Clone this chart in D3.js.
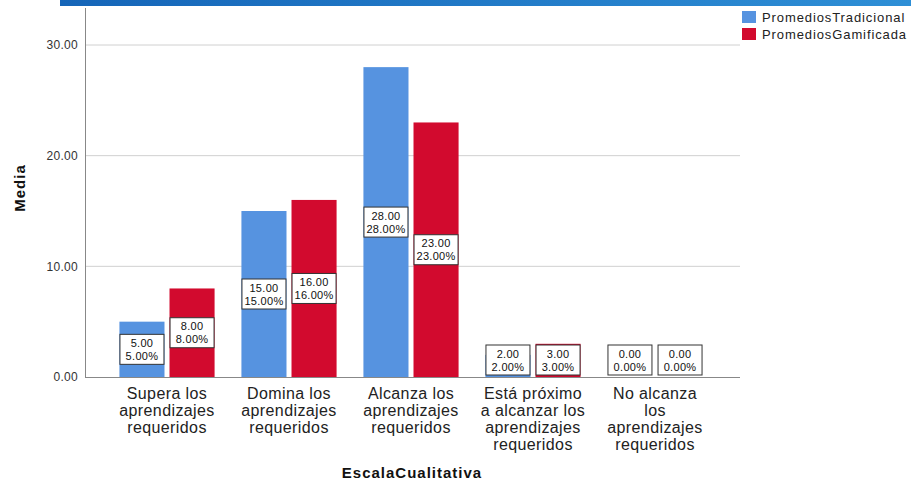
<!DOCTYPE html>
<html><head><meta charset="utf-8">
<script src="https://cdn.jsdelivr.net/npm/d3@7"></script>
<style>body{margin:0;background:#fff;} svg{display:block;font-family:"Liberation Sans",Arial,sans-serif;}</style>
</head><body>
<svg id="c" width="911" height="486"></svg>
<script>
const categories = [
  ["Supera los","aprendizajes","requeridos"],
  ["Domina los","aprendizajes","requeridos"],
  ["Alcanza los","aprendizajes","requeridos"],
  ["Está próximo","a alcanzar los","aprendizajes","requeridos"],
  ["No alcanza","los","aprendizajes","requeridos"]
];
const seriesNames = ["PromediosTradicional","PromediosGamificada"];
const tradicional = [5, 15, 28, 2, 0];
const gamificada = [8, 16, 23, 3, 0];
const yTicks = [0, 10, 20, 30];
const colors = ["#5693e0", "#d20a2e"];

const svg = d3.select("#c");
const baseY = 377, topY = 8, axisX = 85, gridEnd = 740;

// top strip
const grad = svg.append("defs").append("linearGradient").attr("id","g");
grad.append("stop").attr("offset","0").attr("stop-color","#1565b8");
grad.append("stop").attr("offset","1").attr("stop-color","#2e8fd6");
svg.append("rect").attr("x",60).attr("y",0).attr("width",851).attr("height",6).attr("fill","url(#g)");

const y = d3.scaleLinear().domain([0,30]).range([baseY, baseY - 332]);
const idx = d3.range(categories.length);
const x = d3.scaleBand().domain(idx).range([106,716]).paddingInner(0.22).paddingOuter(0.11);
const xs = d3.scaleBand().domain([0,1]).range([0, x.bandwidth()]).paddingInner(0.1);

// gridlines
svg.append("g").selectAll("line").data(yTicks.filter(d=>d>0)).join("line")
  .attr("x1",axisX).attr("x2",gridEnd).attr("y1",d=>y(d)).attr("y2",d=>y(d))
  .attr("stroke","#d0d0d0").attr("stroke-width",1);

// y axis
const yAxis = d3.axisLeft(y).tickValues(yTicks).tickFormat(d3.format(".2f")).tickSize(0).tickPadding(7);
const gy = svg.append("g").attr("transform",`translate(${axisX},0)`).call(yAxis);
gy.select(".domain").remove();
gy.selectAll("text").attr("font-size",12).attr("fill","#333").attr("font-family","Liberation Sans, Arial, sans-serif").attr("letter-spacing",0.3);
svg.append("line").attr("x1",axisX+0.5).attr("x2",axisX+0.5).attr("y1",topY).attr("y2",baseY).attr("stroke","#888");

const data = [];
idx.forEach(i=>{
  data.push({i, s:0, v:tradicional[i]});
  data.push({i, s:1, v:gamificada[i]});
});

// bars
svg.append("g").selectAll("rect").data(data).join("rect")
  .attr("x",d=>x(d.i)+xs(d.s)).attr("width",xs.bandwidth())
  .attr("y",d=>y(d.v)).attr("height",d=>baseY - y(d.v))
  .attr("fill",d=>colors[d.s]);

// baseline
svg.append("line").attr("x1",axisX).attr("x2",gridEnd).attr("y1",baseY+0.5).attr("y2",baseY+0.5).attr("stroke","#888");

// labels
const lab = svg.append("g").selectAll("g").data(data).join("g")
  .attr("transform",d=>{
    const cx = x(d.i)+xs(d.s)+xs.bandwidth()/2;
    const cy = Math.min((y(d.v)+baseY)/2, baseY-17);
    return `translate(${cx},${cy})`;
  });
lab.append("rect").attr("x",-22).attr("y",-15).attr("width",44).attr("height",30)
  .attr("fill","#fff").attr("stroke","#333").attr("stroke-width",1);
lab.append("text").attr("text-anchor","middle").attr("y",-2.5).attr("font-size",11).attr("letter-spacing",0.3).attr("fill","#111")
  .text(d=>d3.format(".2f")(d.v));
lab.append("text").attr("text-anchor","middle").attr("y",10.5).attr("font-size",11).attr("letter-spacing",0.3).attr("fill","#111")
  .text(d=>d3.format(".2f")(d.v)+"%");

// category labels
const cl = svg.append("g").selectAll("text").data(idx).join("text")
  .attr("x",d=>x(d)+x.bandwidth()/2).attr("y",399)
  .attr("text-anchor","middle").attr("font-size",16).attr("letter-spacing",0.4).attr("fill","#222");
cl.selectAll("tspan").data(d=>categories[d]).join("tspan")
  .attr("x",function(){return this.parentNode.getAttribute("x");})
  .attr("dy",(d,k)=>k===0?0:17).text(d=>d);

// axis titles
svg.append("text").attr("x",412).attr("y",478).attr("text-anchor","middle")
  .attr("font-size",15).attr("letter-spacing",1).attr("font-weight","bold").attr("fill","#111").text("EscalaCualitativa");
svg.append("text").attr("transform","translate(25,188) rotate(-90)").attr("text-anchor","middle")
  .attr("font-size",15).attr("letter-spacing",1).attr("font-weight","bold").attr("fill","#111").text("Media");

// legend
const lg = svg.append("g").selectAll("g").data(seriesNames).join("g")
  .attr("transform",(d,k)=>`translate(742,${11+k*17})`);
lg.append("rect").attr("width",14).attr("height",12).attr("fill",(d,k)=>colors[k]);
lg.append("text").attr("x",20).attr("y",11).attr("font-size",13).attr("letter-spacing",0.9).attr("fill","#222").text(d=>d);
</script>
</body></html>
